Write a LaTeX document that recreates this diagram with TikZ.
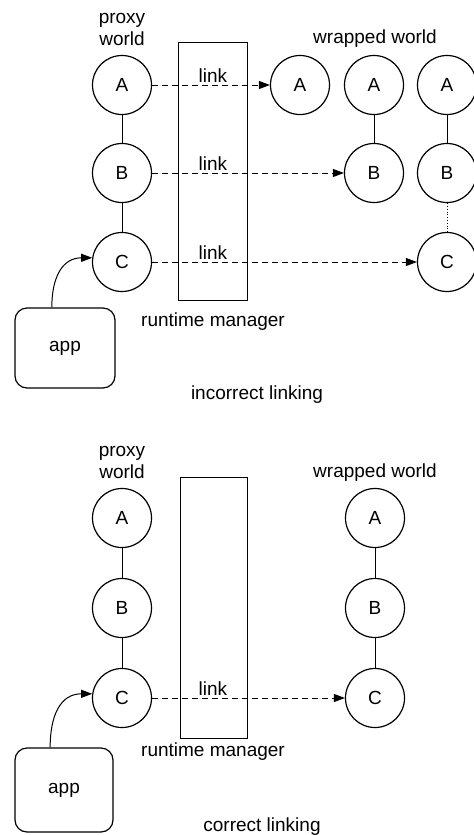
\documentclass[tikz,border=0pt]{standalone}
\usepackage{fontspec}
\setmainfont{Liberation Sans}
\usetikzlibrary{arrows.meta}

\begin{document}
\begin{tikzpicture}[x=0.5pt, y=-0.5pt,
    every node/.append style={font=\fontsize{9.5}{11}\selectfont},
    obj/.style={draw, circle, line width=0.6pt, minimum size=29.5pt, inner sep=0pt},
    mgr/.style={draw, line width=0.5pt, inner sep=0pt},
    appbox/.style={draw, line width=0.6pt, rounded corners=6pt, inner sep=0pt},
    lnk/.style={dash pattern=on 3pt off 2pt, line width=0.5pt, -{Triangle[length=5.5pt,width=4pt]}},
    lbl/.style={anchor=base, inner sep=0pt},
    txt/.style={align=center, inner sep=0pt}
  ]
  \useasboundingbox (0,0) rectangle (474,835);

  % incorrect linking

  \node[txt] (p1) at (122,29) {proxy\\world};
  \node[txt] (w1) at (375,39) {wrapped world};

  \node[mgr, minimum width=34.5pt, minimum height=129pt] (rm1) at (212.5,171) {};
  \node[txt] (rt1) at (213,322) {runtime manager};
  \node[txt] (t1) at (257,395) {incorrect linking};

  \node[obj] (a) at (122,85) {A};
  \node[obj] (b) at (122,173) {B};
  \node[obj] (c) at (122,262) {C};

  \node[obj] (x1) at (300,85) {A};
  \node[obj] (x2) at (374,85) {A};
  \node[obj] (y2) at (374,173) {B};
  \node[obj] (x3) at (447,85) {A};
  \node[obj] (y3) at (447,173) {B};
  \node[obj] (z3) at (447,262) {C};

  \node[appbox, minimum width=50pt, minimum height=40pt] (app1) at (65,348) {app};

  \draw[line width=0.5pt] (a) -- (b) -- (c);
  \draw[line width=0.5pt] (x2) -- (y2);
  \draw[line width=0.5pt] (x3) -- (y3);
  \draw[line width=0.4pt, densely dotted] (y3) -- (z3);

  \draw[lnk] (a) -- (x1);
  \draw[lnk] (b) -- (y2);
  \draw[lnk] (c) -- (z3);
  \node[lbl] (l1) at (213,82) {link};
  \node[lbl] (l2) at (213,170) {link};
  \node[lbl] (l3) at (213,259) {link};

  \draw[line width=0.5pt, -{Triangle[length=5.5pt,width=4pt]}]
    (app1.108) to[out=90, in=180, looseness=1.2] (c.172);

  % correct linking

  \node[txt] (p2) at (122,462) {proxy\\world};
  \node[txt] (w2) at (375,473) {wrapped world};

  \node[mgr, minimum width=33.5pt, minimum height=130.5pt] (rm2) at (213.5,607.5) {};
  \node[txt] (rt2) at (213,752) {runtime manager};
  \node[txt] (t2) at (262,827) {correct linking};

  \node[obj] (d) at (122,518) {A};
  \node[obj] (e) at (122,608) {B};
  \node[obj] (f) at (122,698) {C};

  \node[obj] (u) at (375,518) {A};
  \node[obj] (v) at (375,608) {B};
  \node[obj] (w) at (375,698) {C};

  \node[appbox, minimum width=49pt, minimum height=42pt] (app2) at (64,790) {app};

  \draw[line width=0.5pt] (d) -- (e) -- (f);
  \draw[line width=0.5pt] (u) -- (v) -- (w);

  \draw[lnk] (f) -- (w);
  \node[lbl] (l4) at (213,695) {link};

  \draw[line width=0.5pt, -{Triangle[length=5.5pt,width=4pt]}]
    (app2.108) to[out=90, in=180, looseness=1.2] (f.172);
\end{tikzpicture}
\end{document}
